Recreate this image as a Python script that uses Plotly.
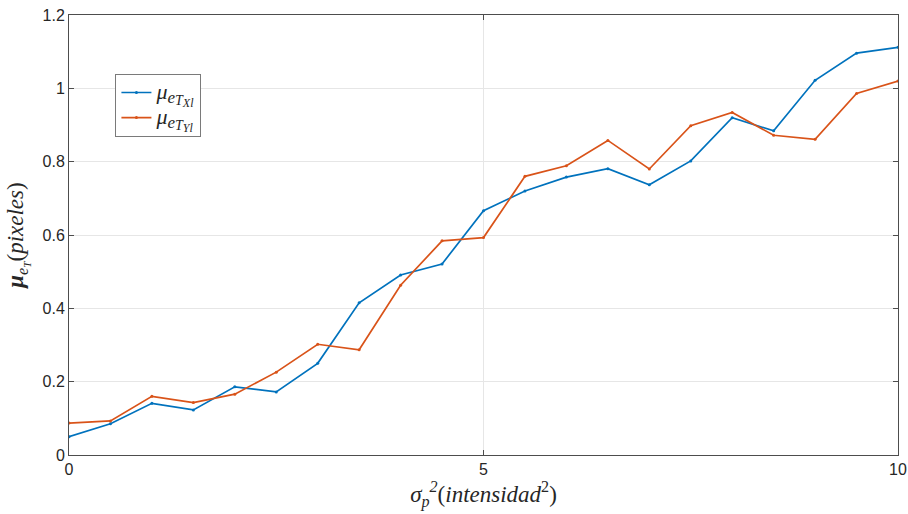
import plotly.graph_objects as go

# Noise variance (intensity^2)
sigma2 = [0, 0.5, 1, 1.5, 2, 2.5, 3, 3.5, 4, 4.5, 5, 5.5, 6, 6.5, 7, 7.5, 8, 8.5, 9, 9.5, 10]

# Mean error along X (pixels)
mu_x = [0.050, 0.085, 0.141, 0.123, 0.186, 0.172, 0.250, 0.415, 0.491, 0.521, 0.666,
        0.720, 0.758, 0.781, 0.737, 0.802, 0.920, 0.884, 1.022, 1.096, 1.112]

# Mean error along Y (pixels)
mu_y = [0.087, 0.093, 0.160, 0.143, 0.166, 0.226, 0.302, 0.287, 0.463, 0.584, 0.593,
        0.760, 0.789, 0.858, 0.780, 0.898, 0.934, 0.872, 0.861, 0.986, 1.020]

y_ticks = [0, 0.2, 0.4, 0.6, 0.8, 1.0, 1.2]
y_tick_text = ["0", "0.2", "0.4", "0.6", "0.8", "1", "1.2"]
x_ticks = [0, 5, 10]

BLUE = "#0072BD"
ORANGE = "#D95319"
AX = "#4d4d4d"
SERIF = "Liberation Serif, DejaVu Serif, serif"
SANS = "Liberation Sans, Arial, Helvetica, sans-serif"


def mu_label(axis):
    return ("<i><span style='font-size:22px'>μ</span><sub><span style='font-size:17px'>e</span>"
            "<sub><span style='font-size:14px'>T</span><sub><span style='font-size:12px'>"
            + axis + "l</span></sub></sub></sub></i>")


fig = go.Figure()
fig.add_trace(go.Scatter(
    x=sigma2, y=mu_x, mode="lines+markers",
    line=dict(color=BLUE, width=1.7), marker=dict(color=BLUE, size=3),
    name=mu_label("X"),
))
fig.add_trace(go.Scatter(
    x=sigma2, y=mu_y, mode="lines+markers",
    line=dict(color=ORANGE, width=1.7), marker=dict(color=ORANGE, size=3),
    name=mu_label("Y"),
))

fig.update_layout(
    width=908, height=514,
    margin=dict(l=69, r=10, t=15, b=59),
    paper_bgcolor="white", plot_bgcolor="white",
    font=dict(family=SANS, size=16, color="#262626"),
    showlegend=True,
    legend=dict(
        x=0.056, y=0.866, xanchor="left", yanchor="top",
        bgcolor="white", bordercolor="#7a7a7a", borderwidth=1,
        font=dict(family=SERIF, size=17, color="#262626"),
        itemwidth=30, tracegroupgap=0,
    ),
)

fig.update_xaxes(
    range=[0, 10], tickvals=x_ticks, ticks="inside", ticklen=5, tickcolor=AX,
    showline=True, linecolor=AX, linewidth=1, mirror="ticks",
    showgrid=True, gridcolor="#e6e6e6", gridwidth=1, zeroline=False,
    tickfont=dict(family=SANS, size=16), automargin=False,
    title=dict(
        text="<i>σ<sub>p</sub><sup>2</sup></i>(<i>intensidad</i><sup>2</sup>)",
        font=dict(family=SERIF, size=23), standoff=3,
    ),
)
fig.update_yaxes(
    range=[0, 1.2], tickvals=y_ticks, ticktext=y_tick_text,
    ticks="inside", ticklen=5, tickcolor=AX,
    showline=True, linecolor=AX, linewidth=1, mirror="ticks",
    showgrid=True, gridcolor="#e6e6e6", gridwidth=1, zeroline=False,
    tickfont=dict(family=SANS, size=16), automargin=False,
    title=dict(
        text="<b><i>μ</i></b><sub><i>e<sub>T</sub></i></sub>(<i>pixeles</i>)",
        font=dict(family=SERIF, size=23), standoff=12,
    ),
)

fig.write_html("out.html")
